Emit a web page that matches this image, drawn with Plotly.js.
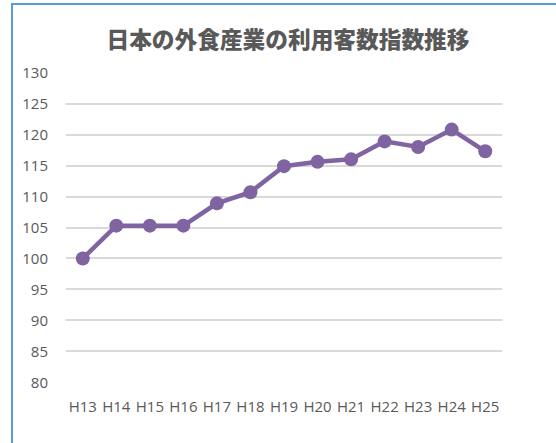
<!DOCTYPE html>
<html>
<head>
<meta charset="utf-8">
<script src="https://cdn.plot.ly/plotly-3.0.1.min.js"></script>
<style>
html,body{margin:0;padding:0;background:#fff;}
#wrap{position:relative;width:556px;height:443px;}
#chart{width:556px;height:443px;}
#frame{position:absolute;left:11px;top:3px;width:545px;height:440px;border-top:2px solid #5B9BD5;border-left:2px solid #5B9BD5;pointer-events:none;box-sizing:border-box;}
</style>
</head>
<body>
<div id="wrap"><div id="chart"></div><div id="frame"></div></div>
<script>
const categories = ["H13","H14","H15","H16","H17","H18","H19","H20","H21","H22","H23","H24","H25"];
const values = [100, 105.3, 105.3, 105.3, 108.9, 110.7, 114.9, 115.6, 116.0, 118.9, 118.0, 120.8, 117.3];
const yTicks = [80, 85, 90, 95, 100, 105, 110, 115, 120, 125, 130];
const titleText = "日本の外食産業の利用客数指数推移";

const trace = {
  x: categories, y: values, type: 'scatter', mode: 'lines+markers',
  line: {color: '#8064A2', width: 4.5},
  marker: {color: '#8064A2', size: 14},
  hoverinfo: 'skip'
};
const layout = {
  width: 556, height: 443,
  margin: {l: 66, r: 54, t: 72, b: 60},
  paper_bgcolor: '#ffffff', plot_bgcolor: '#ffffff',
  showlegend: false,
  title: {text: titleText, x: 0.518, xanchor: 'center', y: 0.91, yanchor: 'middle',
    font: {family: 'Noto Sans CJK JP, sans-serif', size: 22.7, color: '#595959', weight: 900}},
  font: {family: 'Open Sans, sans-serif', color: '#595959', size: 15},
  xaxis: {type: 'category', range: [-0.5, 12.5], showgrid: false, zeroline: false, showline: false,
    ticks: '', tickfont: {family: 'Open Sans, sans-serif', size: 15, color: '#595959'}, ticklabelstandoff: 13, fixedrange: true},
  yaxis: {range: [79.9, 130.1], tickvals: yTicks, showgrid: true, gridcolor: '#D9D9D9', gridwidth: 2,
    zeroline: false, showline: false, ticks: '', tickfont: {family: 'Open Sans, sans-serif', size: 15, color: '#595959'},
    ticklabelstandoff: 17, fixedrange: true}
};
Plotly.newPlot('chart', [trace], layout, {displayModeBar: false, staticPlot: true});
</script>
</body>
</html>
